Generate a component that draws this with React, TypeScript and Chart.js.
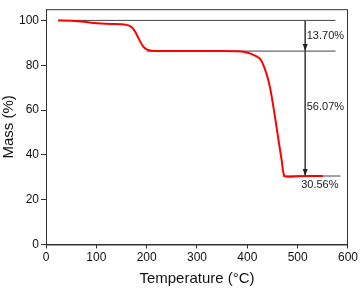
import React, { useEffect, useRef } from "react";
import { Chart, registerables } from "chart.js";

Chart.register(...registerables);

const temps = [24, 50, 70, 90, 110, 130, 150, 160, 167, 173, 178, 183, 188, 193, 198, 205, 215, 250, 300, 350, 380, 392, 405, 415, 425, 433, 441, 446, 451, 457, 463, 468, 474, 500, 550];
const masses = [100, 99.9, 99.5, 99.0, 98.6, 98.4, 98.3, 98.0, 97.4, 96.3, 94.6, 92.4, 90.2, 88.4, 87.3, 86.7, 86.4, 86.3, 86.3, 86.3, 86.2, 86.0, 85.3, 84.3, 82.9, 79.5, 74, 69, 62.5, 54, 45, 38, 30.5, 30.5, 30.56];

const levelValues = [100, 86.3, 30.56];
const levelStarts = [25, 200, 470];
const levelEnds = [575, 575, 585];
const arrowX = 515;
const stepLabels = ["13.70%", "56.07%", "30.56%"];
const stepLabelX = [518, 518, 507];
const stepLabelY = [93.15, 61.2, 26.6];

const xTicks = [0, 100, 200, 300, 400, 500, 600];
const yTicks = [0, 20, 40, 60, 80, 100];

const AXIS = "#333333";

export default function App() {
  const ref = useRef<HTMLCanvasElement | null>(null);
  useEffect(() => {
    document.body.style.margin = "0";
    const canvas = ref.current!;
    const levelDatasets = levelValues.map((v, i) => ({
      type: "line" as const,
      data: [
        { x: levelStarts[i], y: v },
        { x: levelEnds[i], y: v },
      ],
      borderColor: "#444444",
      borderWidth: 1,
      pointRadius: 0,
      order: 3,
    }));
    const annot = {
      id: "annot",
      afterDatasetsDraw(chart: any) {
        const ctx = chart.ctx;
        const xs = chart.scales.x;
        const ys = chart.scales.y;
        const ca = chart.chartArea;
        ctx.save();
        // box
        ctx.strokeStyle = AXIS;
        ctx.lineWidth = 1;
        ctx.strokeRect(ca.left + 0.5, ca.top + 0.5, ca.right - ca.left - 1, ca.bottom - ca.top);
        // arrow heads
        ctx.fillStyle = "#222222";
        const ax = xs.getPixelForValue(arrowX);
        [levelValues[1], levelValues[2]].forEach((v) => {
          const py = ys.getPixelForValue(v);
          ctx.beginPath();
          ctx.moveTo(ax, py);
          ctx.lineTo(ax - 2.5, py - 7);
          ctx.lineTo(ax + 2.5, py - 7);
          ctx.closePath();
          ctx.fill();
        });
        // labels
        ctx.fillStyle = "#222222";
        ctx.font = "11px 'Liberation Sans', Arial, sans-serif";
        ctx.textBaseline = "middle";
        ctx.textAlign = "left";
        stepLabels.forEach((t, i) => {
          ctx.fillText(t, xs.getPixelForValue(stepLabelX[i]), ys.getPixelForValue(stepLabelY[i]));
        });
        ctx.restore();
      },
    };
    const chart = new Chart(canvas, {
      type: "line",
      data: {
        datasets: [
          {
            data: temps.map((t, i) => ({ x: t, y: masses[i] })),
            borderColor: "#ff0000",
            borderWidth: 2,
            pointRadius: 0,
            tension: 0.2,
            order: 1,
          },
          ...levelDatasets,
          {
            data: [
              { x: arrowX, y: levelValues[0] },
              { x: arrowX, y: levelValues[2] },
            ],
            borderColor: "#444444",
            borderWidth: 1,
            pointRadius: 0,
            order: 2,
          },
        ],
      },
      options: {
        animation: false,
        responsive: false,
        devicePixelRatio: 1,
        layout: { padding: { top: 2, right: 12, left: 0, bottom: 0 } },
        plugins: { legend: { display: false }, tooltip: { enabled: false } },
        scales: {
          x: {
            type: "linear",
            min: 0,
            max: 600,
            afterFit: (s: any) => {
              s.height = 44.5;
            },
            afterBuildTicks: (s: any) => {
              s.ticks = xTicks.map((v) => ({ value: v }));
            },
            grid: { drawOnChartArea: false, drawTicks: true, tickLength: 4, color: AXIS, lineWidth: 1 },
            border: { color: AXIS, width: 1 },
            ticks: { color: "#111", padding: 2, font: { size: 12, family: "'Liberation Sans', Arial" }, maxRotation: 0 },
            title: {
              display: true,
              text: "Temperature (°C)",
              color: "#111",
              font: { size: 15, family: "'Liberation Sans', Arial" },
              padding: { top: 0, bottom: 1 },
            },
          },
          y: {
            type: "linear",
            min: 0,
            max: 105,
            afterFit: (s: any) => {
              s.width = 46;
            },
            afterBuildTicks: (s: any) => {
              s.ticks = yTicks.map((v) => ({ value: v }));
            },
            grid: { drawOnChartArea: false, drawTicks: true, tickLength: 5, color: AXIS, lineWidth: 1 },
            border: { color: AXIS, width: 1 },
            ticks: { color: "#111", padding: 2, font: { size: 12, family: "'Liberation Sans', Arial" } },
            title: {
              display: true,
              text: "Mass (%)",
              color: "#111",
              font: { size: 15, family: "'Liberation Sans', Arial" },
              padding: { top: 0, bottom: 0 },
            },
          },
        },
      },
      plugins: [annot],
    } as any);
    return () => chart.destroy();
  }, []);
  return (
    <div style={{ width: 360, height: 289 }}>
      <canvas ref={ref} width={360} height={289} style={{ display: "block" }} />
    </div>
  );
}
